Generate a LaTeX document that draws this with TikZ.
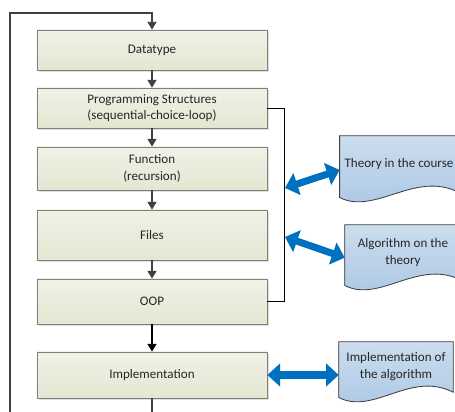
\documentclass[tikz,border=0pt]{standalone}
\usepackage{fontspec}
\setmainfont{Carlito}
\usetikzlibrary{arrows.meta,shadows,backgrounds}
\definecolor{boxtop}{HTML}{F0F2E6}
\definecolor{boxbot}{HTML}{E2E7D2}
\definecolor{boxline}{HTML}{7F7F7F}
\definecolor{flowgrey}{HTML}{404040}
\definecolor{doctop}{HTML}{CCDDEE}
\definecolor{docbot}{HTML}{A9C6E4}
\definecolor{docedge}{HTML}{404040}
\definecolor{arrowblue}{HTML}{0070C0}
\tikzset{
  stage/.style={rectangle,draw=boxline,line width=0.6pt,top color=boxtop,bottom color=boxbot,
    minimum width=5.75cm,align=center,text=black!85,font=\fontsize{9.3}{12}\selectfont,
    drop shadow={shadow xshift=0.05cm,shadow yshift=-0.05cm,opacity=0.25}},
  docu/.style={rectangle,align=center,text=black!85,font=\fontsize{9.3}{12}\selectfont},
  docpaper/.style={draw=docedge,line width=0.6pt,top color=doctop,bottom color=docbot},
  flow/.style={draw=flowgrey,line width=0.8pt,-{Triangle[width=6.5pt,length=5.5pt]}},
  twoway/.style={draw=arrowblue,line width=5pt,{Triangle[width=16pt,length=9pt]}-{Triangle[width=16pt,length=9pt]}}
}
\begin{document}
\begin{tikzpicture}[x=0.025cm,y=-0.025cm]
\useasboundingbox (0,0) rectangle (455,412);
% course steps
\node[stage,minimum height=1cm] (dtype) at (152,50) {Datatype};
\node[stage,minimum height=1cm] (prog) at (152,108) {Programming Structures\\(sequential-choice-loop)};
\node[stage,minimum height=1.075cm] (func) at (152,168.5) {Function\\(recursion)};
\node[stage,minimum height=1.25cm] (files) at (152,235) {Files};
\node[stage,minimum height=1.125cm] (oop) at (152,301.5) {OOP};
\node[stage,minimum height=1.15cm] (impl) at (152,375) {Implementation};
% documents on the right
\node[docu,minimum width=2.95cm,minimum height=1.4cm] (theory) at (399,164) {Theory in the course};
\node[docu,minimum width=2.9cm,minimum height=1.375cm] (algo) at (403,252.5) {Algorithm on the\\theory};
\node[docu,minimum width=2.85cm,minimum height=1.25cm] (implof) at (396,367) {Implementation of\\the algorithm};
\begin{scope}[on background layer]
\foreach \d in {theory,algo,implof}
  \draw[docpaper] (\d.north west) -- (\d.north east) -- (\d.south east)
    .. controls +(-43,-22) and +(35,18) .. ([yshift=-0.13cm]\d.south west) -- cycle;
\end{scope}
% arrows down
\draw[flow] (dtype) -- (prog);
\draw[flow] (prog) -- (func);
\draw[flow] (func) -- (files);
\draw[flow] (files) -- (oop);
\draw[flow,draw=black] (oop) -- (impl);
% loop back to the top
\coordinate (lb) at (10,430);
\coordinate (lt) at (10,13);
\draw[flow] (impl.south) |- (lb) -- (lt) -| (dtype.north);
% bracket
\draw[line width=0.6pt] (prog.east) -- ++(17,0) coordinate (brk) |- (oop.east);
\coordinate (t1) at (285,188);
\coordinate (t2) at (285,237);
\draw[twoway] (t1) -- ([yshift=-0.15cm]theory.west);
\draw[twoway] (t2) -- ([yshift=-0.13cm]algo.west);
\draw[twoway] (impl.east) -- (impl.east -| implof.west);
\end{tikzpicture}
\end{document}
